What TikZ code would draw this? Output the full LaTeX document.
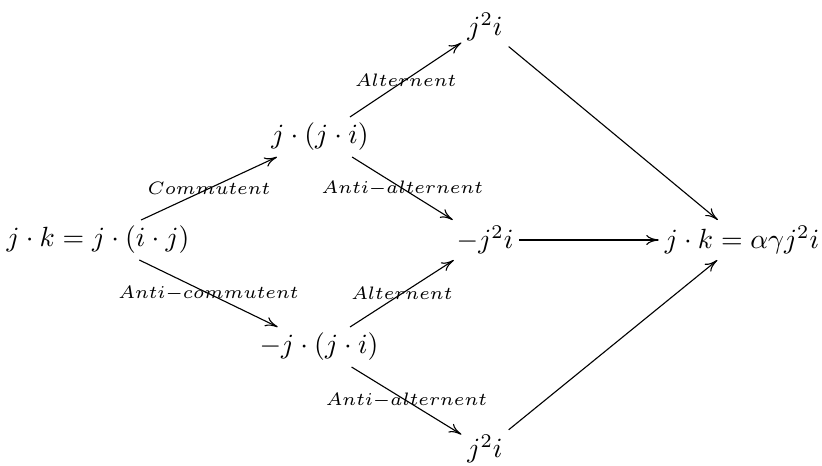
\RequirePackage{fix-cm}
\documentclass[tikz,border=0pt]{standalone}
\usetikzlibrary{arrows.meta}
\begin{document}
\begin{tikzpicture}[x=0.36pt,y=-0.36pt,
  obj/.style={inner sep=2pt},
  lab/.style={inner sep=0pt,font=\fontsize{6.5}{8}\selectfont},
  arr/.style={-{To[length=4.5pt,width=3.6pt]}}]
\useasboundingbox (0,0) rectangle (822,466);
\node[obj] (A) at (98,240) {$j\cdot k=j\cdot(i\cdot j)$};
\node[obj] (B) at (320,137) {$j\cdot(j\cdot i)$};
\node[obj] (C) at (319,347) {$-j\cdot(j\cdot i)$};
\node[obj] (D) at (485,27) {$j^2i$};
\node[obj] (E) at (485,240) {$-j^2i$};
\node[obj] (F) at (485,449) {$j^2i$};
\node[obj] (G) at (742,240) {$j\cdot k=\alpha\gamma j^2i$};
\draw[arr] (A) -- node[lab]{$Commutent$} (B);
\draw[arr] (A) -- node[lab]{$Anti{-}commutent$} (C);
\draw[arr] (B) -- node[lab]{$Alternent$} (D);
\draw[arr] (B) -- node[lab]{$Anti{-}alternent$} (E);
\draw[arr] (C) -- node[lab]{$Alternent$} (E);
\draw[arr] (C) -- node[lab]{$Anti{-}alternent$} (F);
\draw[arr] (D) -- (G);
\draw[arr] (E) -- (G);
\draw[arr] (F) -- (G);
\end{tikzpicture}
\end{document}
